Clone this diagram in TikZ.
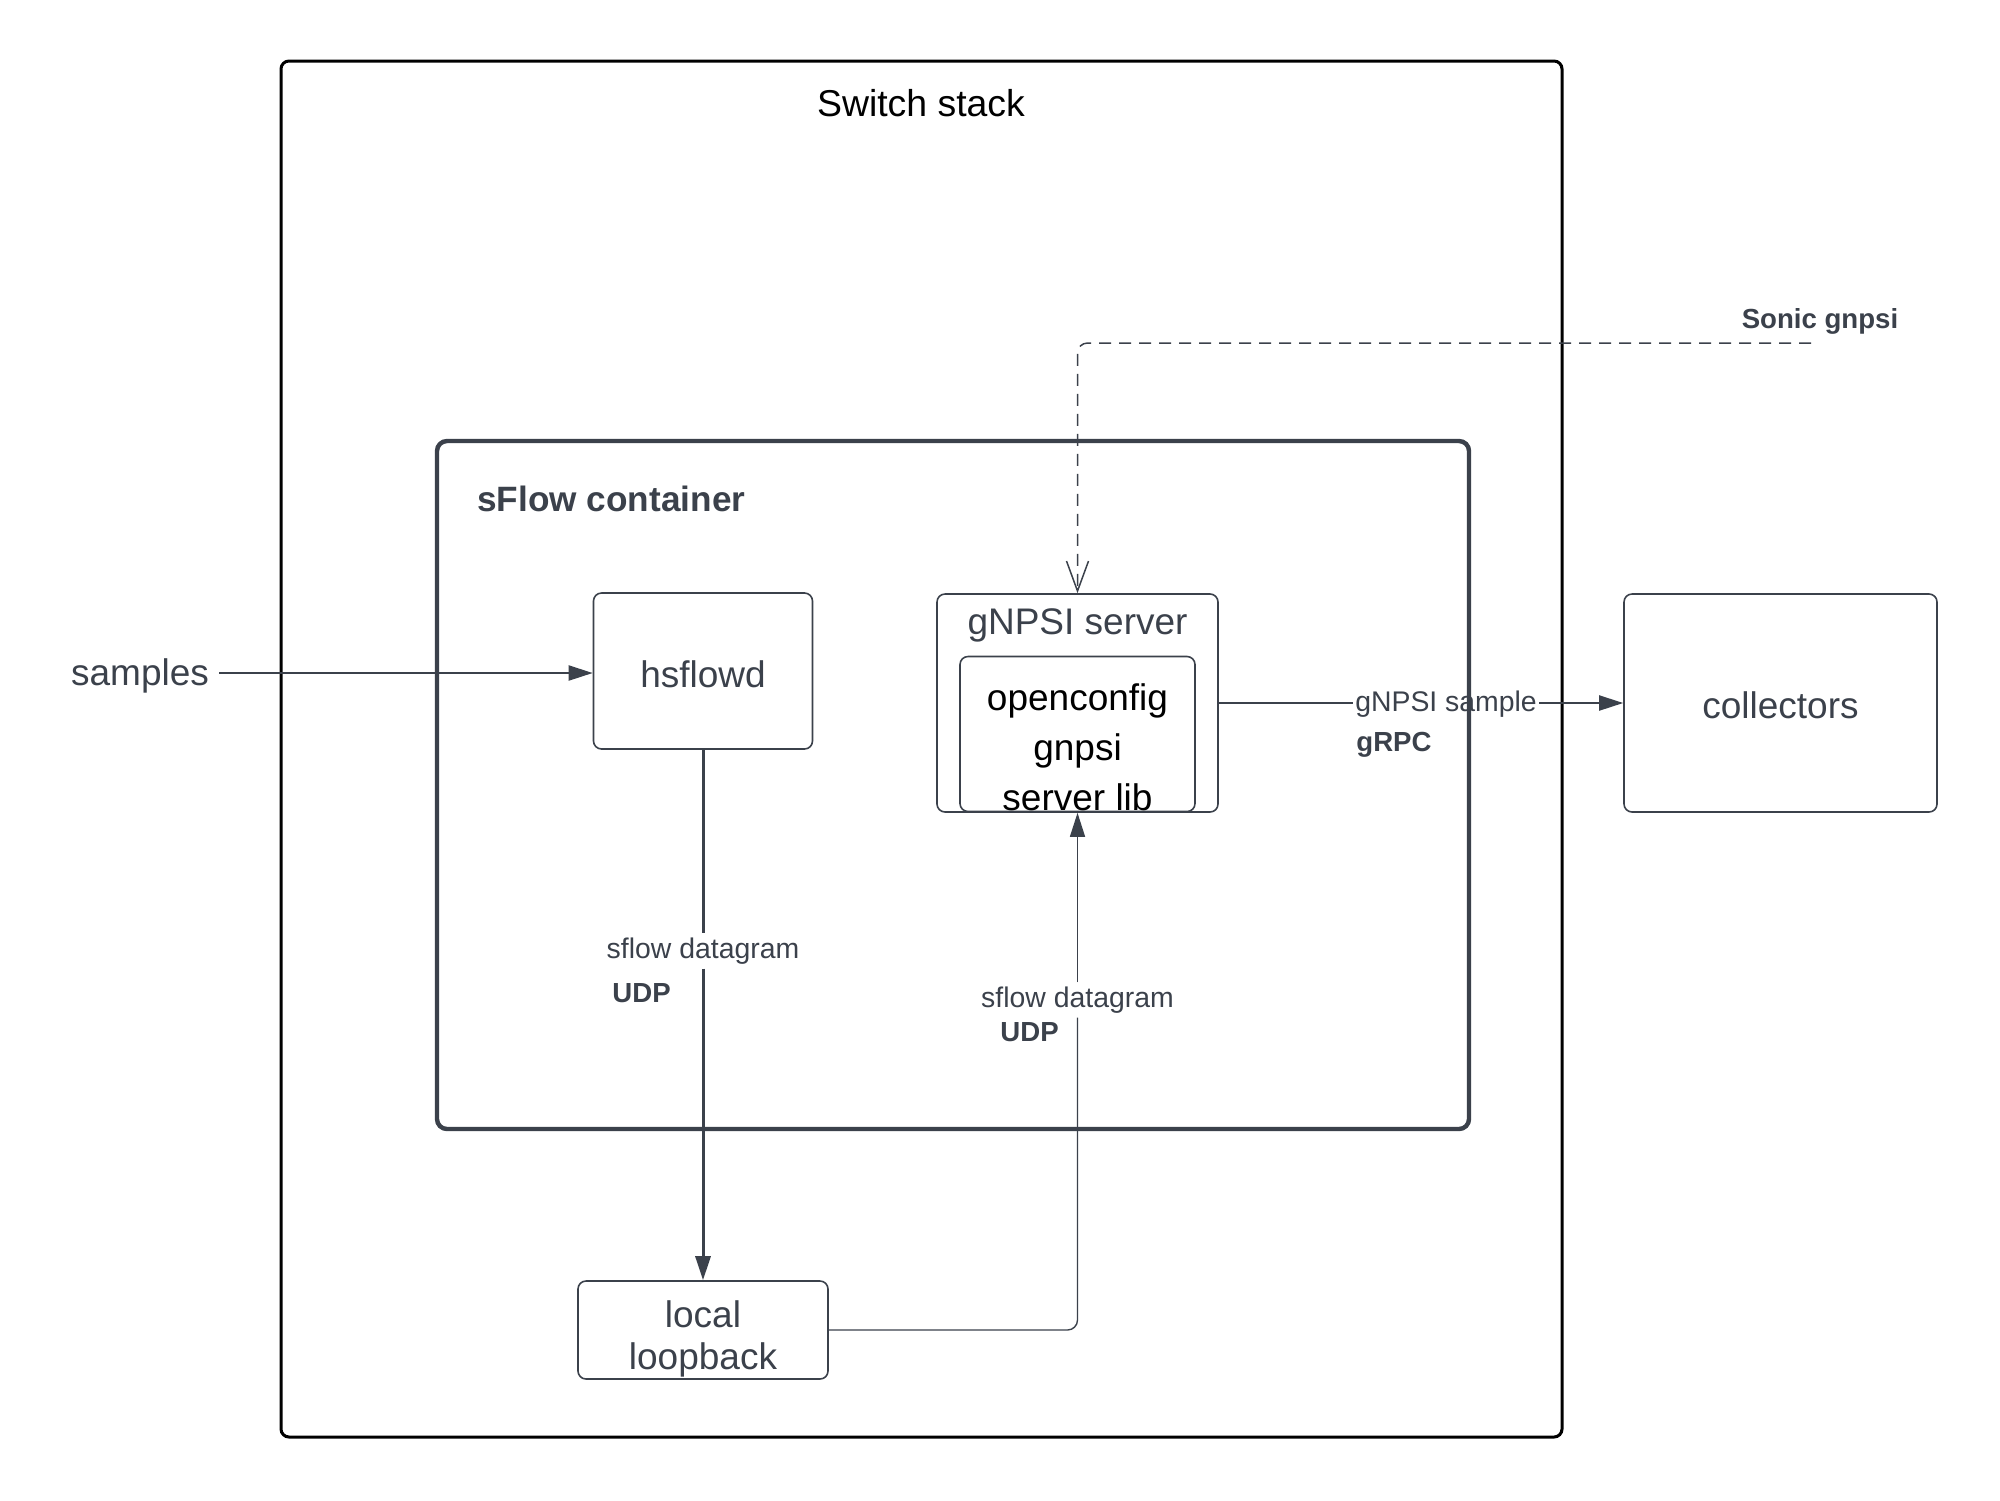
\documentclass[tikz,border=0pt]{standalone}
\usepackage{fontspec}
\setmainfont{Liberation Sans}
\usetikzlibrary{arrows.meta}
\definecolor{ink}{HTML}{3B414B}
\newcommand{\bigtxt}{\fontsize{18.5}{21}\selectfont}
\newcommand{\smalltxt}{\fontsize{14.2}{17}\selectfont}
\newcommand{\boldsmall}{\fontsize{13.8}{17}\selectfont\bfseries}
\begin{document}
\begin{tikzpicture}[x=0.5pt,y=-0.5pt,
  box/.style={draw=ink, line width=0.8pt, rounded corners=4pt, inner sep=0pt},
  boxtext/.style={text=ink, font=\bigtxt, align=center, inner sep=0pt},
  lbl/.style={text=ink, font=\smalltxt, inner sep=2pt},
  blbl/.style={text=ink, font=\boldsmall, inner sep=0pt, anchor=west},
  tip/.style={-{Triangle[length=12pt,width=7.5pt]}},
  conn/.style={draw=ink, line width=1pt}]
\useasboundingbox (0,0) rectangle (2000,1500);

% frames
\node[draw=black, line width=1.5pt, rounded corners=4pt, inner sep=0pt, minimum width=640.5pt, minimum height=688pt] (switch) at (921.5,749) {};
\node[text=black, font=\fontsize{18.7}{22}\selectfont] (switchlbl) at (921,103) {Switch stack};
\node[draw=ink, line width=2.2pt, rounded corners=5pt, inner sep=0pt, minimum width=516pt, minimum height=344pt] (cont) at (953,785) {};
\node[anchor=west, text=ink, font=\fontsize{17.6}{21}\selectfont\bfseries, inner sep=0pt] (contlbl) at (477,499) {sFlow container};

% boxes
\node[box, minimum width=109.5pt, minimum height=78pt] (hsflowd) at (703,671) {};
\node[boxtext] (hsflowdlbl) at (703,674) {hsflowd};
\node[box, minimum width=140.5pt, minimum height=109pt] (gnpsi) at (1077.5,703) {};
\node[boxtext] (gnpsilbl) at (1077.5,625) {gNPSI server};
\node[box, minimum width=117.5pt, minimum height=77.5pt] (inner) at (1077.5,734) {};
\node[text=black, font=\fontsize{18.5}{25}\selectfont, align=center, inner sep=0pt] (innerlbl) at (1077.5,747) {openconfig\\gnpsi\\server lib};
\node[box, minimum width=156.5pt, minimum height=109pt] (collectors) at (1780.5,703) {};
\node[boxtext] (collectorslbl) at (1780.5,705) {collectors};
\node[box, minimum width=125pt, minimum height=49pt] (loopback) at (703,1330) {};
\node[boxtext] (loopbacklbl) at (703,1339) {local\\loopback};
\node[text=ink, font=\bigtxt, inner sep=5pt] (samples) at (140,676) {samples};

% labels
\node[lbl] (dg1) at (703,951) {sflow datagram};
\node[blbl] (udp1) at (612,993) {UDP};
\node[lbl] (dg2) at (1077.5,1000) {sflow datagram};
\node[blbl] (udp2) at (1000,1032) {UDP};
\node[lbl, inner sep=1pt] (gsample) at (1446,704) {gNPSI sample};
\node[blbl] (grpc) at (1356,745) {gRPC};
\node[text=ink, font=\boldsmall, inner sep=0pt] (sonic) at (1820,321) {Sonic gnpsi};
\coordinate (sonicend) at (1811,343);

% connectors
\draw[conn, tip] (samples.east |- hsflowd.west) ++(0,2) coordinate (sampstart) -- (sampstart -| hsflowd.west);
\draw[conn, line width=1.5pt] (hsflowd.south) -- (hsflowd.south |- dg1.north);
\draw[conn, line width=1.5pt, tip] (hsflowd.south |- dg1.south) -- (loopback.north);
\draw[conn, line width=0.7pt, rounded corners=5pt] (loopback.east) -| (dg2.south);
\draw[conn, line width=0.7pt, tip] (dg2.north) -- (gnpsi.south);
\draw[conn] (gnpsi.east) -- (gnpsi.east -| gsample.west);
\draw[conn, tip] (gnpsi.east -| gsample.east) -- (gnpsi.east -| collectors.west);
\draw[draw=ink, line width=0.75pt, dash pattern=on 6pt off 4pt, rounded corners=5pt,
  -{Straight Barb[length=15pt,width=11pt]}] (sonicend) -| (gnpsi.north);
\end{tikzpicture}
\end{document}
